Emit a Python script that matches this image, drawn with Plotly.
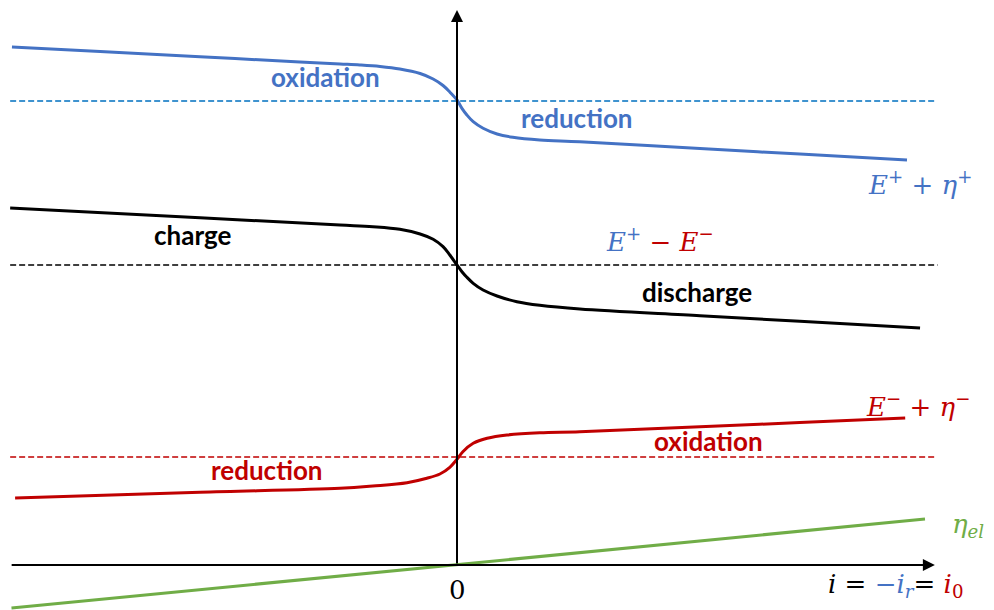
import plotly.graph_objects as go

# ---- data (current i, potential E in arbitrary units) ----
blue_i = [-0.989, -0.793, -0.571, -0.349, -0.26, -0.216, -0.171, -0.127, -0.082, -0.053, -0.031, -0.016,
          0.0, 0.011, 0.022, 0.036, 0.058, 0.089, 0.124, 0.184, 0.273, 0.54, 0.762, 1.0]
blue_E = [5.18, 5.135, 5.083, 5.03, 5.01, 5.00, 4.985, 4.96, 4.915, 4.86, 4.795, 4.73,
          4.65, 4.567, 4.50, 4.433, 4.367, 4.31, 4.277, 4.25, 4.233, 4.164, 4.109, 4.05]

black_i = [-0.993, -0.571, -0.26, -0.187, -0.127, -0.082, -0.053, -0.031, -0.016, 0.0, 0.011, 0.022,
           0.036, 0.058, 0.089, 0.133, 0.184, 0.273, 0.54, 0.762, 1.029]
black_E = [3.57, 3.472, 3.40, 3.383, 3.357, 3.31, 3.257, 3.183, 3.10, 3.00, 2.933, 2.877,
           2.817, 2.75, 2.69, 2.633, 2.597, 2.56, 2.493, 2.437, 2.37]

red_i = [-0.982, -0.571, -0.26, -0.187, -0.111, -0.067, -0.038, -0.016, 0.0, 0.013, 0.036, 0.067,
         0.111, 0.184, 0.273, 0.54, 0.762, 0.996]
red_E = [0.67, 0.727, 0.767, 0.79, 0.823, 0.867, 0.91, 0.977, 1.057, 1.133, 1.217, 1.267,
         1.30, 1.323, 1.333, 1.382, 1.425, 1.47]

green_i = [-0.99, 1.04]
green_E = [-0.43, 0.46]

E_plus = 4.64      # blue dashed level
E_cell = 3.00      # black dashed level
E_minus = 1.08     # red dashed level
dash_i = [-0.993, 1.062]
dash_i_black = [-0.993, 1.068]

axis_x_end = 1.062
axis_x_start = -0.993
axis_y_top = 5.55

BLUE = "#4472C4"
BLUE_D = "#0070C0"
RED = "#C00000"
GREEN = "#70AD47"
BLACK = "#000000"

fig = go.Figure()

# dashed reference levels
fig.add_trace(go.Scatter(x=dash_i, y=[E_plus, E_plus], mode="lines",
                         line=dict(color=BLUE_D, width=1.5, dash="6px,3px")))
fig.add_trace(go.Scatter(x=dash_i_black, y=[E_cell, E_cell], mode="lines",
                         line=dict(color=BLACK, width=1.5, dash="6px,3px")))
fig.add_trace(go.Scatter(x=dash_i, y=[E_minus, E_minus], mode="lines",
                         line=dict(color=RED, width=1.5, dash="6px,3px")))

# axes (drawn as arrows)
fig.add_annotation(x=0, y=axis_y_top, ax=0, ay=0, xref="x", yref="y", axref="x", ayref="y",
                   showarrow=True, arrowhead=2, arrowsize=1.2, arrowwidth=2, arrowcolor=BLACK, text="")
fig.add_annotation(x=axis_x_end, y=0, ax=axis_x_start, ay=0, xref="x", yref="y", axref="x", ayref="y",
                   showarrow=True, arrowhead=2, arrowsize=1.2, arrowwidth=2, arrowcolor=BLACK, text="")

# curves
for xs, ys, c in [(blue_i, blue_E, BLUE), (black_i, black_E, BLACK), (red_i, red_E, RED)]:
    fig.add_trace(go.Scatter(x=xs, y=ys, mode="lines",
                             line=dict(color=c, width=3, shape="spline", smoothing=1.0)))

fig.add_trace(go.Scatter(x=green_i, y=green_E, mode="lines",
                         line=dict(color=GREEN, width=3)))

LBL = dict(family="Lato", size=26)
MATH = dict(family="DejaVu Serif", size=26)

def lab(x, y, text, color, font, **kw):
    fig.add_annotation(x=x, y=y, text=text, showarrow=False, xref="x", yref="y",
                       font=dict(color=color, **font), xanchor="center", yanchor="middle", **kw)

lab(-0.293, 4.88, "<b>oxidation</b>", BLUE, LBL)
lab(0.267, 4.47, "<b>reduction</b>", BLUE, LBL)
lab(-0.587, 3.30, "<b>charge</b>", BLACK, LBL)
lab(0.533, 2.73, "<b>discharge</b>", BLACK, LBL)
lab(0.558, 1.24, "<b>oxidation</b>", RED, LBL)
lab(-0.422, 0.95, "<b>reduction</b>", RED, LBL)

lab(1.028, 3.82, "<i>E</i><sup>+</sup> + <i>η</i><sup>+</sup>", BLUE, MATH)
lab(0.451, 3.25, "<i>E</i><sup>+</sup> <span style='color:%s'>− <i>E</i><sup>−</sup></span>" % RED, BLUE, MATH)
lab(1.024, 1.60, "<i>E</i><sup>−</sup> + <i>η</i><sup>−</sup>", RED, MATH)
lab(1.136, 0.40, "<i>η</i><sub><i>el</i></sub>", GREEN, MATH)
lab(0.002, -0.25, "0", BLACK, MATH)
lab(0.975, -0.20,
    "<i>i</i> = <span style='color:%s'>−<i>i</i><sub><i>r</i></sub></span>= <span style='color:%s'><i>i</i><sub>0</sub></span>"
    % (BLUE, RED), BLACK, MATH)

fig.update_layout(
    width=994, height=610,
    margin=dict(l=0, r=0, t=0, b=0),
    paper_bgcolor="white", plot_bgcolor="white",
    showlegend=False,
    xaxis=dict(range=[-457 / 450, 537 / 450], visible=False, fixedrange=True),
    yaxis=dict(range=[-0.45, 5.65], visible=False, fixedrange=True),
)

fig.write_html("out.html")
